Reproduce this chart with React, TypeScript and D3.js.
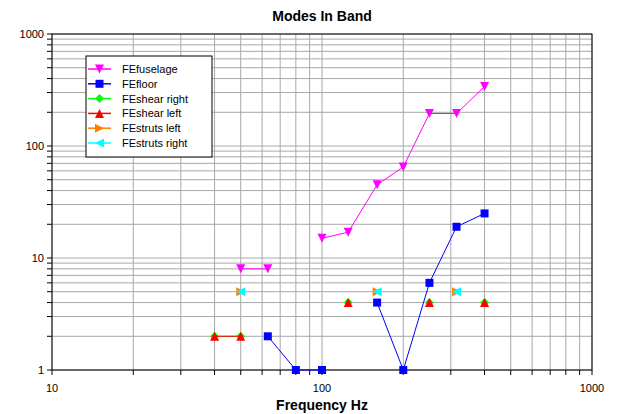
import React from "react";
import * as d3 from "d3";

// 1/3-octave band centre frequencies
const freqs = [40, 50, 63, 80, 100, 125, 160, 200, 250, 315, 400];

const feFuselage = [null, 8, 8, null, 15, 17, 45, 65, 195, 195, 340];
const feFloor = [null, null, 2, 1, 1, null, 4, 1, 6, 19, 25];
const feShearRight = [2, 2, null, null, null, 4, null, null, 4, null, 4];
const feShearLeft = [2, 2, null, null, null, 4, null, null, 4, null, 4];
const feStrutsLeft = [null, 5, null, null, null, null, 5, null, null, 5, null];
const feStrutsRight = [null, 5, null, null, null, null, 5, null, null, 5, null];

const seriesNames = ["FEfuselage", "FEfloor", "FEshear right", "FEshear left", "FEstruts left", "FEstruts right"];
const seriesColors = ["#ff00ff", "#0000ff", "#00ff00", "#ff0000", "#ff8000", "#00ffff"];
const seriesMarkers = ["triDown", "square", "diamond", "triUp", "triRight", "triLeft"];
const seriesValues = [feFuselage, feFloor, feShearRight, feShearLeft, feStrutsLeft, feStrutsRight];

const W = 617;
const H = 414;
const left = 52;
const right = 592;
const top = 34;
const bottom = 370;
const font = "'Liberation Sans', Arial, sans-serif";

function markerPath(kind: string, s: number) {
  const h = s / 2;
  switch (kind) {
    case "square":
      return `M${-h},${-h}H${h}V${h}H${-h}Z`;
    case "diamond":
      return `M0,${-h}L${h},0L0,${h}L${-h},0Z`;
    case "triUp":
      return `M0,${-h}L${h},${h}L${-h},${h}Z`;
    case "triDown":
      return `M0,${h}L${h},${-h}L${-h},${-h}Z`;
    case "triRight":
      return `M${h},0L${-h},${-h}L${-h},${h}Z`;
    default:
      return `M${-h},0L${h},${-h}L${h},${h}Z`;
  }
}

export default function App() {
  const x = d3.scaleLog().domain([10, 1000]).range([left, right]);
  const y = d3.scaleLog().domain([1, 1000]).range([bottom, top]);

  const xTicks = x.ticks(); // 10,20,...,1000
  const yTicks = y.ticks(); // 1,2,...,1000
  const majorX = [10, 100, 1000];
  const majorY = [1, 10, 100, 1000];

  const line = d3
    .line<[number, number | null]>()
    .defined((d) => d[1] != null)
    .x((d) => x(d[0]))
    .y((d) => y(d[1] as number));

  return (
    <svg width={W} height={H} style={{ position: "absolute", left: 0, top: 0, background: "#fff" }}>
      <rect width={W} height={H} fill="#fff" />
      {/* grid */}
      {xTicks.map((v) => (
        <line key={"gx" + v} x1={x(v)} x2={x(v)} y1={top} y2={bottom} stroke="#a8a8a8" strokeWidth={1} />
      ))}
      {yTicks.map((v) => (
        <line key={"gy" + v} x1={left} x2={right} y1={y(v)} y2={y(v)} stroke="#a8a8a8" strokeWidth={1} />
      ))}
      {/* frame */}
      <rect x={left} y={top} width={right - left} height={bottom - top} fill="none" stroke="#000" />
      {yTicks.map((v) => (
        <line key={"ty" + v} x1={left - 5} x2={left} y1={y(v)} y2={y(v)} stroke="#000" />
      ))}
      {xTicks.map((v) => (
        <line key={"tx" + v} x1={x(v)} x2={x(v)} y1={bottom} y2={bottom + 5} stroke="#000" />
      ))}
      {/* tick labels */}
      {majorY.map((v) => (
        <text key={"ly" + v} x={left - 8} y={y(v) + 4} textAnchor="end" fontFamily={font} fontSize={11} fill="#000">
          {v}
        </text>
      ))}
      {majorX.map((v) => (
        <text key={"lx" + v} x={x(v)} y={bottom + 22} textAnchor="middle" fontFamily={font} fontSize={11} fill="#000">
          {v}
        </text>
      ))}
      {/* series */}
      {seriesValues.map((vals, i) => {
        const pts = freqs.map((f, j) => [f, vals[j]] as [number, number | null]);
        return (
          <g key={"s" + i}>
            <path d={line(pts) || ""} fill="none" stroke={seriesColors[i]} strokeWidth={1} />
            {pts
              .filter((p) => p[1] != null)
              .map((p, j) => (
                <path
                  key={j}
                  d={markerPath(seriesMarkers[i], i === 1 ? 8 : 9)}
                  transform={`translate(${x(p[0])},${y(p[1] as number)})`}
                  fill={seriesColors[i]}
                />
              ))}
          </g>
        );
      })}
      {/* legend */}
      <rect x={86} y={56} width={126} height={101} fill="#fff" stroke="#000" strokeWidth={1} />
      {seriesNames.map((n, i) => {
        const ly = 69 + i * 14.8;
        return (
          <g key={"lg" + i}>
            <line x1={88} x2={111} y1={ly} y2={ly} stroke={seriesColors[i]} strokeWidth={1.5} />
            <path d={markerPath(seriesMarkers[i], i === 1 ? 8 : 9)} transform={`translate(99.5,${ly})`} fill={seriesColors[i]} />
            <text x={122} y={ly + 4} fontFamily={font} fontSize={11} fill="#000">
              {n}
            </text>
          </g>
        );
      })}
      {/* titles */}
      <text x={322} y={21} textAnchor="middle" fontFamily={font} fontSize={14} fontWeight="bold" fill="#000">
        Modes In Band
      </text>
      <text x={322} y={410} textAnchor="middle" fontFamily={font} fontSize={14} fontWeight="bold" fill="#000">
        Frequency Hz
      </text>
    </svg>
  );
}
